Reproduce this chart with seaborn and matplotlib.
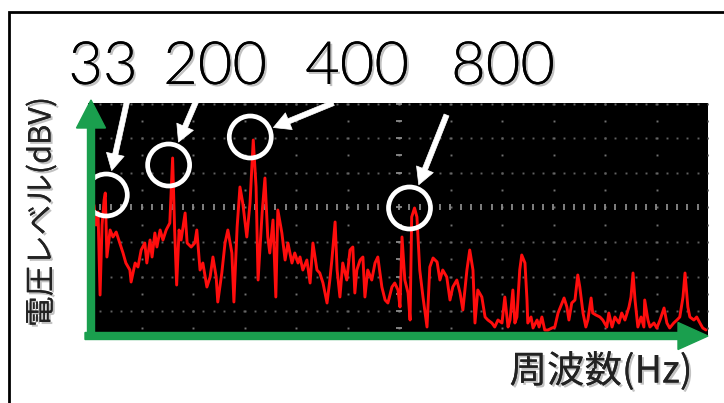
import numpy as np
import pandas as pd
import matplotlib
matplotlib.use("Agg")
import matplotlib.pyplot as plt
import matplotlib.patheffects as pe
from matplotlib.patches import FancyArrow, Rectangle
from matplotlib.transforms import IdentityTransform, offset_copy
from matplotlib import font_manager
import seaborn as sns

# ---- spectrum data (frequency in Hz, level in dBV) ----
low_hz = [5, 10, 15, 20, 25, 30, 33, 37, 45, 52, 60, 69, 77, 84, 94, 97, 107, 114, 122, 131,
          136, 144, 149, 156, 161, 169, 176, 184, 193, 200, 205, 210, 216, 221, 231, 236, 246, 255, 260, 268,
          275, 285, 293, 300, 308, 312, 322, 330, 337, 347, 352, 360, 367, 374, 384, 392]
low_dbv = [-51, -61, -54.5, -96, -61, -48.5, -45, -77, -63.5, -67, -64.5, -70, -75, -80, -83.5, -89.5, -80, -82, -73.5, -70,
           -80, -68.5, -77, -65, -72, -63.5, -68.5, -63.5, -60, -27.5, -63.5, -91, -63.5, -68.5, -55, -70, -72, -70, -63.5, -83.5,
           -80, -92, -87, -77, -87, -99.5, -85, -70, -63.5, -75, -99.5, -62, -42, -50, -67, -50]

mid_hz = [400, 407, 412, 422, 429, 436, 441, 449, 456, 461, 471, 479, 486, 496, 503, 511, 516, 523, 533, 541,
          548, 558, 565, 573, 583, 590, 595, 603, 608, 615, 622, 632, 640, 647, 652, 657, 665, 672, 677, 684,
          694, 702, 709, 719, 727, 734, 744, 751, 759, 764, 769, 776, 784, 789, 793]
mid_dbv = [-18.5, -42, -88.5, -55, -37.5, -67, -75, -58.5, -97, -53.5, -65, -78.5, -70, -80, -75, -80, -77, -83.5, -78.5, -90,
           -70, -83.5, -85, -90, -100, -88.5, -78.5, -59.5, -83.5, -97, -80, -88.5, -73.5, -72, -95, -83.5, -78.5, -77, -97, -83.5,
           -88.5, -80, -77, -92, -98.5, -100, -92, -90, -93.5, -102, -67, -88.5, -95, -108.5, -57]

high_hz = [800, 806, 813, 821, 831, 838, 846, 856, 863, 870, 880, 888, 895, 905, 913, 920, 930, 937, 945, 950,
           957, 967, 975, 982, 992, 999, 1007, 1017, 1024, 1032, 1037, 1044, 1049, 1054, 1061, 1066, 1074, 1079, 1081, 1089,
           1094, 1104, 1109, 1116, 1123, 1131, 1141, 1148, 1156, 1166, 1171, 1178, 1183, 1190, 1198, 1205, 1210, 1218, 1225, 1230,
           1238, 1242, 1250, 1260, 1267, 1277, 1282, 1290, 1297, 1307, 1314, 1322, 1332, 1337, 1342, 1347, 1354, 1362, 1369, 1371,
           1379, 1384, 1394, 1401, 1409, 1419, 1426, 1433, 1443, 1451, 1458, 1466, 1471, 1478, 1483, 1493, 1500, 1508, 1515, 1523]
high_dbv = [-52.5, -57, -83.5, -97, -112, -82, -77.5, -79.5, -88.5, -83.5, -87, -98.5, -92, -88.5, -95, -103.5, -83.5, -73.5, -83.5, -110,
            -93.5, -97, -107, -108.5, -110, -112, -108.5, -110, -97, -112, -108.5, -93.5, -110, -107, -83.5, -76, -80, -98.5, -110, -107,
            -112.5, -108.5, -112, -107, -113.5, -113.5, -112.5, -112, -105, -100, -97.5, -102, -108.5, -100, -98.5, -86, -92, -105, -112, -108.5,
            -97.5, -105, -106, -107, -108.5, -112, -105, -112, -107, -110, -105, -108.5, -102, -97, -85, -98.5, -112, -107, -112, -98.5,
            -108.5, -112, -110, -112.5, -108.5, -102.5, -110, -112.5, -110, -108.5, -107, -97, -85, -102, -107, -108.5, -107, -110, -112.5, -113.5]

peak_labels = ["33", "200", "400", "800"]
peak_freq_hz = [33, 200, 400, 800]

x_title = "周波数(Hz)"
y_title = "電圧レベル(dBV)"

spectrum = pd.DataFrame({
    "freq": low_hz + mid_hz + high_hz,
    "level": low_dbv + mid_dbv + high_dbv,
})
peak_level = [spectrum.loc[spectrum["freq"] == f, "level"].iloc[0] for f in peak_freq_hz]

# ---- style ----
sns.set_style("dark")
plt.rcParams["font.family"] = ["Noto Sans CJK JP", "DejaVu Sans"]

# a light-weight face for the big numbers
digit_font = None
for f in font_manager.fontManager.ttflist:
    if f.name == "Lato" and f.weight in (300, "light"):
        digit_font = font_manager.FontProperties(fname=f.fname)
        break
if digit_font is None:
    digit_font = font_manager.FontProperties(family=["Roboto", "DejaVu Sans"], weight="light")
digit_font.set_size(43)

W, H = 724, 403
fig = plt.figure(figsize=(W / 100, H / 100), dpi=100)
fig.patch.set_facecolor("white")


def fx(px):
    return px / W


def fy(py):
    return 1 - py / H


# slide frame (only top and left edges fall inside the image)
fig.add_artist(Rectangle((fx(9), -0.1), 1.3, fy(12) + 0.1, transform=fig.transFigure,
                         fill=False, lw=2, ec="black", zorder=0))

ax = fig.add_axes([fx(88), fy(336), fx(708) - fx(88), fy(103) - fy(336)])
ax.set_facecolor("black")
for s in ax.spines.values():
    s.set_visible(False)
ax.set_xticks([])
ax.set_yticks([])
ax.grid(False)
ax.set_xlim(-9.9, 1528)
ax.set_ylim(-116.5, 0)

# oscilloscope-like dotted graticule
col_px = 90 + 51.5 * np.arange(13)
row_px = 103.5 + 17.3 * np.arange(14)
cx = (col_px - 88) / 620
ry = (336 - row_px) / 233
gx, gy = np.meshgrid(cx, ry)
ax.plot(gx.ravel(), gy.ravel(), ls="none", marker="s", ms=1.4, mew=0, color="#707070",
        transform=ax.transAxes, zorder=1)
fine_x = (np.arange(90, 708, 10.3) - 88) / 620
for k, y in enumerate(ry):
    if k % 2 == 0 and k != 6:
        ax.plot(fine_x, np.full_like(fine_x, y), ls="none", marker="s", ms=1.4, mew=0,
                color="#606060", transform=ax.transAxes, zorder=1)
ax.plot(fine_x, np.full_like(fine_x, ry[6]), ls="none", marker="|", ms=4.5, mew=1.3,
        color="#8a8a8a", transform=ax.transAxes, zorder=1)
ax.plot(np.full_like(ry, cx[6]), ry, ls="none", marker="_", ms=4.5, mew=1.3,
        color="#8a8a8a", transform=ax.transAxes, zorder=1)

# spectrum trace
sns.lineplot(data=spectrum, x="freq", y="level", ax=ax, color="#ff0d0d",
             linewidth=2.1, estimator=None, zorder=3)
ax.set_xlabel("")
ax.set_ylabel("")

# white circles and arrows pointing at the harmonics
circle_shift = [(1, -2), (-4, -7), (-3, 3), (-5, 0)]
arrow_from = [(21, 95), (28, 65), (83, 34), (37, 93)]
for f, lv, (dx, dy), (ax_off, ay_off) in zip(peak_freq_hz, peak_level, circle_shift, arrow_from):
    tr = offset_copy(ax.transData, fig=fig, x=dx, y=dy, units="dots")
    ax.scatter([f], [lv], s=(42 * 0.72) ** 2, facecolors="none", edgecolors="white",
               linewidths=3.4, transform=tr, zorder=6, clip_on=False)
    ax.annotate("", xy=(f, lv), xycoords=tr, xytext=(ax_off, ay_off), textcoords="offset pixels",
                annotation_clip=False,
                arrowprops=dict(arrowstyle="simple,head_length=1.2,head_width=1.3,tail_width=0.38",
                                mutation_scale=10, fc="white", ec="white", lw=0.5,
                                shrinkA=0, shrinkB=18),
                zorder=7)

# green axis arrows
fig.add_artist(FancyArrow(91, H - 339, 0, 239, width=7, head_width=29, head_length=28,
                          length_includes_head=True, transform=IdentityTransform(),
                          color="#1a9f4e", zorder=8))
fig.add_artist(FancyArrow(85, H - 336, 623, 0, width=7, head_width=27, head_length=30,
                          length_includes_head=True, transform=IdentityTransform(),
                          color="#1a9f4e", zorder=8))

# peak frequency labels
shadow = [pe.withSimplePatchShadow(offset=(1.5, -1.5), shadow_rgbFace="#9a9a9a", alpha=0.6),
          pe.Normal()]
label_x = [103, 215, 357, 503]
for txt, px in zip(peak_labels, label_x):
    fig.text(fx(px), fy(84), txt, ha="center", va="baseline", fontproperties=digit_font,
             color="black", path_effects=shadow)

# axis titles
fig.text(fx(42), fy(212), y_title, rotation=90, ha="center", va="center", fontsize=22,
         color="#222222", path_effects=shadow)
fig.text(fx(601), fy(372), x_title, ha="center", va="center", fontsize=27,
         color="#222222", path_effects=shadow)

fig.savefig("out.png", dpi=100)
